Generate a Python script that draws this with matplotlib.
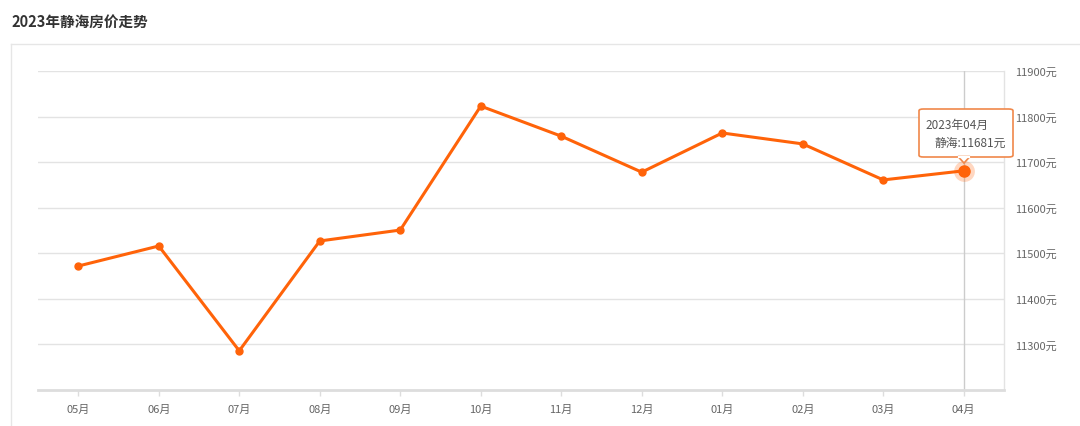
import matplotlib.pyplot as plt
from matplotlib.patches import FancyBboxPatch, Polygon
from matplotlib.lines import Line2D

plt.rcParams['font.family'] = ['Noto Sans CJK SC', 'DejaVu Sans']

# data
months = ['05月', '06月', '07月', '08月', '09月', '10月',
          '11月', '12月', '01月', '02月', '03月', '04月']
prices = [11472, 11516, 11286, 11527, 11551, 11823,
          11757, 11678, 11764, 11740, 11661, 11681]
y_ticks = [11300, 11400, 11500, 11600, 11700, 11800, 11900]
title = '2023年静海房价走势'
tip_month = '2023年04月'
tip_name = '静海'

W, H = 1080, 427
fig = plt.figure(figsize=(W / 100, H / 100), dpi=100)

def fx(px):
    return px / W

def fy(py):
    return 1 - py / H

# title and outer panel border
fig.text(fx(11), fy(22), title, fontsize=10.5, fontweight='bold',
         color='#333333', va='center', ha='left')
fig.add_artist(Line2D([fx(11), 1], [fy(45), fy(45)], color='#e6e6e6', lw=1))
fig.add_artist(Line2D([fx(11), fx(11)], [fy(45), 0], color='#e6e6e6', lw=1))

ax = fig.add_axes([fx(38), fy(391), fx(1004) - fx(38), fy(72) - fy(391)])
x = list(range(len(months)))
ax.plot(x, prices, color='#ff6309', lw=2.2, marker='o', ms=5, zorder=3)
ax.set_xlim(-0.5, len(months) - 0.5)
ax.set_ylim(11200, 11900)

ax.set_yticks(y_ticks)
ax.set_yticklabels([f'{v}元' for v in y_ticks])
ax.yaxis.tick_right()
ax.tick_params(axis='y', length=0, pad=8, labelsize=8, labelcolor='#666666')
ax.set_xticks(x)
ax.set_xticklabels(months)
ax.tick_params(axis='x', length=4, width=1, color='#dddddd', pad=6,
               labelsize=8, labelcolor='#666666')
ax.grid(axis='y', color='#e3e3e3', lw=1)
ax.set_axisbelow(True)
for s in ['left', 'top']:
    ax.spines[s].set_visible(False)
ax.spines['bottom'].set_color('#dddddd')
ax.spines['bottom'].set_linewidth(2)
ax.spines['right'].set_color('#e3e3e3')
ax.spines['right'].set_linewidth(1)

# hover crosshair and highlighted point
last = len(months) - 1
ax.axvline(last, color='#cccccc', lw=1, zorder=1)
ax.plot(last, prices[last], 'o', ms=15, color='#ff6309', alpha=0.25, zorder=4,
        markeredgewidth=0)
ax.plot(last, prices[last], 'o', ms=8, color='#ff6309', zorder=5)

# tooltip
box = FancyBboxPatch((fx(919), fy(158)), fx(1013) - fx(919), fy(110) - fy(158),
                     boxstyle='round,pad=0,rounding_size=0.004',
                     transform=fig.transFigure, facecolor='white',
                     edgecolor='#f0884a', lw=1.2, zorder=10)
fig.add_artist(box)
tri = Polygon([[fx(958), fy(157.5)], [fx(970), fy(157.5)], [fx(964), fy(164)]],
              closed=True, transform=fig.transFigure, facecolor='white',
              edgecolor='#f0884a', lw=1.2, zorder=10)
fig.add_artist(tri)
fig.add_artist(Line2D([fx(958.8), fx(969.2)], [fy(158), fy(158)],
                      color='white', lw=1.6, zorder=11))
fig.text(fx(925), fy(125), tip_month, fontsize=8.5, color='#555555',
         va='center', ha='left', zorder=12)
fig.text(fx(1006), fy(143), f'{tip_name}:{prices[last]}元', fontsize=8.5,
         color='#555555', va='center', ha='right', zorder=12)

fig.savefig('out.png', dpi=100, facecolor='white')
